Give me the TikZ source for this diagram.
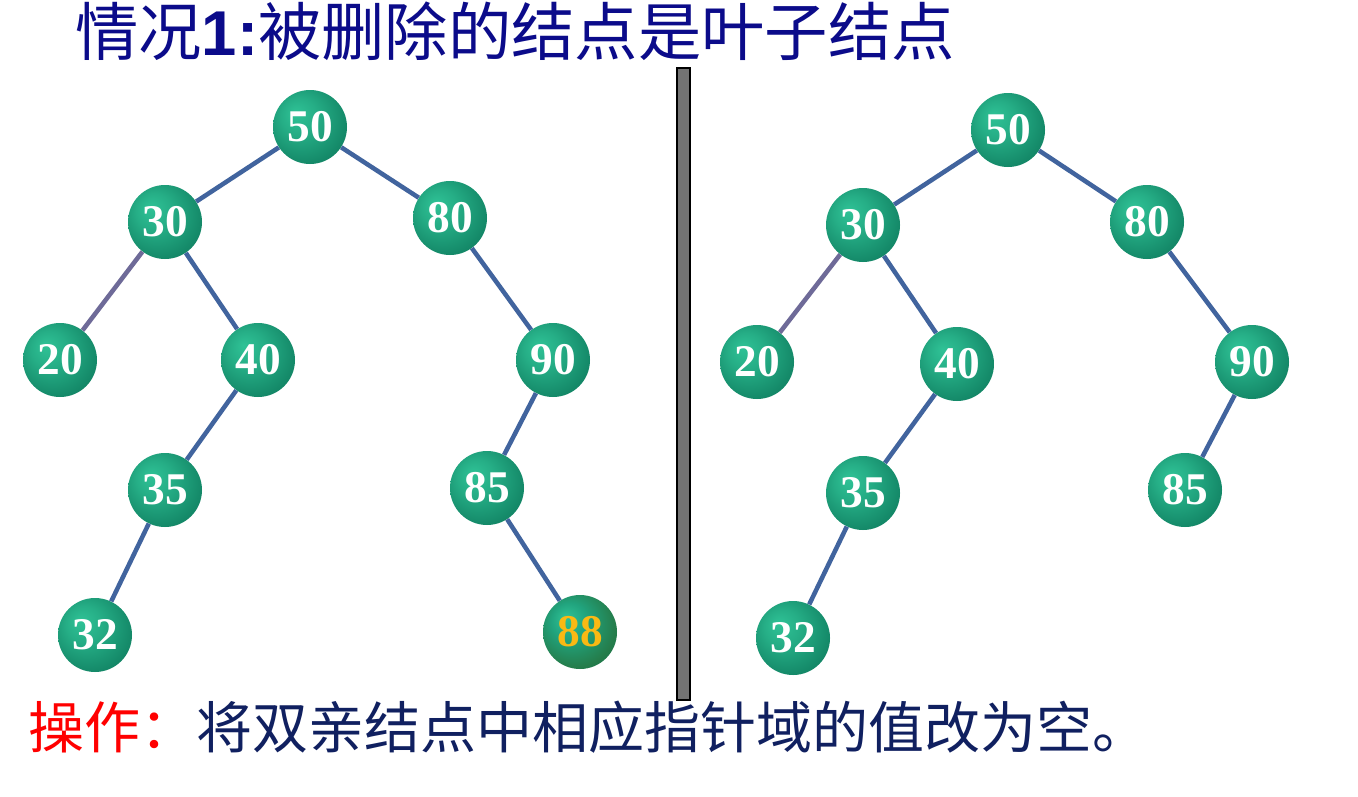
\documentclass[tikz,border=0pt]{standalone}
\usepackage{fontspec}
\setmainfont{Liberation Serif}
\newfontfamily\cjk{Noto Sans CJK SC}
\usetikzlibrary{shadings}
\definecolor{edgeblue}{HTML}{41649E}
\definecolor{edgepurple}{HTML}{6E6A98}
\definecolor{titleblue}{HTML}{0B0B8A}
\definecolor{textblue}{HTML}{102060}
\definecolor{ballin}{HTML}{2FC296}
\definecolor{ballout}{HTML}{005E46}
\pgfdeclareradialshading{greenball}{\pgfpoint{-10bp}{10bp}}{%
  color(0bp)=(ballin); color(12bp)=(ballin!80!ballout); color(28bp)=(ballin!45!ballout); color(50bp)=(ballout)}
\pgfdeclareradialshading{oliveball}{\pgfpoint{-10bp}{10bp}}{%
  color(0bp)=(ballin); color(12bp)=(ballin!70!ballout); color(28bp)=(ballin!30!ballout!80!olive); color(50bp)=(ballout)}
\tikzset{
  ball/.style={circle, minimum size=55.5pt, inner sep=0pt, shading=greenball,
    font=\fontsize{34}{34}\selectfont\bfseries, text=white},
  edge/.style={draw=edgeblue, line width=3.4pt},
  edgep/.style={draw=edgepurple, line width=3.4pt}
}
\begin{document}
\begin{tikzpicture}[x=0.75pt,y=-0.75pt]
\useasboundingbox (0,0) rectangle (1358,796);
\fill[white] (0,0) rectangle (1358,796);
\node[anchor=base west, text=titleblue, inner sep=0] (title) at (75,55)
  {\cjk\fontsize{47.5}{47.5}\selectfont 情况\textbf{\fontspec{Liberation Sans}1:}被删除的结点是叶子结点};
\draw[black, fill=gray!90!black, line width=0.8pt] (677,68) rectangle (690,700);
\node[ball] (L50) at (310,127) {50};
\node[ball] (L30) at (165,222) {30};
\node[ball] (L80) at (450,218) {80};
\node[ball] (L20) at (60,360) {20};
\node[ball] (L40) at (258,360) {40};
\node[ball] (L90) at (553,360) {90};
\node[ball] (L35) at (165,490) {35};
\node[ball] (L85) at (487,488) {85};
\node[ball] (L32) at (95,635) {32};
\node[ball, shading=oliveball, text={rgb,255:red,250;green,185;blue,20}] (L88) at (580,632) {88};
\node[ball] (R50) at (1008,130) {50};
\node[ball] (R30) at (863,225) {30};
\node[ball] (R80) at (1147,222) {80};
\node[ball] (R20) at (757,362) {20};
\node[ball] (R40) at (957,364) {40};
\node[ball] (R90) at (1252,362) {90};
\node[ball] (R35) at (863,493) {35};
\node[ball] (R85) at (1185,490) {85};
\node[ball] (R32) at (793,638) {32};
\path[edge] (L50)--(L30) (L50)--(L80) (L30)--(L40) (L80)--(L90) (L40)--(L35) (L90)--(L85) (L35)--(L32) (L85)--(L88);
\path[edgep] (L30)--(L20);
\path[edge] (R50)--(R30) (R50)--(R80) (R30)--(R40) (R80)--(R90) (R40)--(R35) (R90)--(R85) (R35)--(R32);
\path[edgep] (R30)--(R20);
\node[anchor=base west, inner sep=0] (op) at (28,748)
  {\cjk\fontsize{42}{42}\selectfont\textcolor{red}{操作：}\textcolor{textblue}{将双亲结点中相应指针域的值改为空。}};
\end{tikzpicture}
\end{document}
